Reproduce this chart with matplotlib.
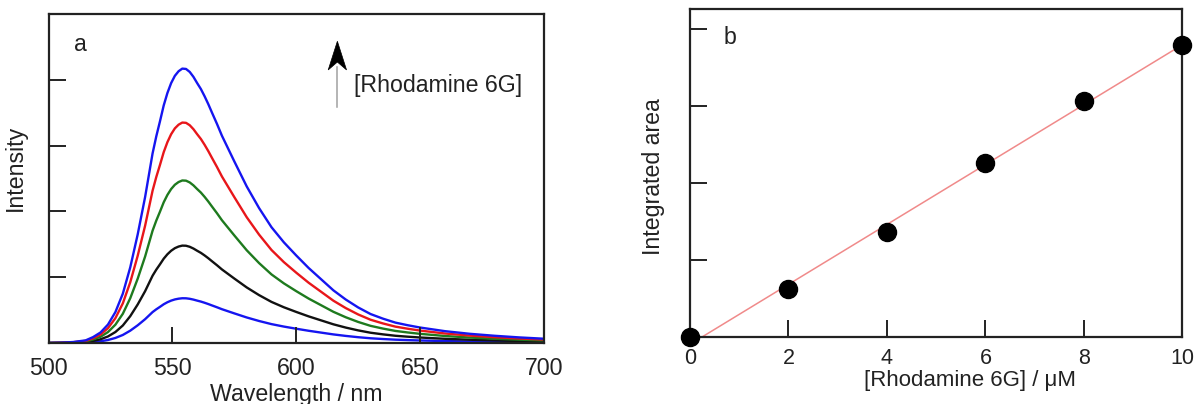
import numpy as np
import matplotlib
matplotlib.use("Agg")
import matplotlib.pyplot as plt
from matplotlib.patches import Polygon

plt.rcParams['font.family'] = ['Liberation Sans', 'DejaVu Sans']

# ---- Panel a: emission spectra ----
wavelength = [500, 505, 510, 515, 518, 521, 524, 527, 530, 533, 536, 539, 542,
              543.5, 545, 546.5, 548, 549.5, 551, 552.5, 554, 555.5, 557,
              558.5, 560, 561.5, 563, 564.5, 566, 568, 570, 575, 580, 585,
              590, 595, 600, 605, 610, 615, 620, 625, 630, 635, 640, 645, 650,
              660, 670, 680, 690, 700]
# emission profile of the most concentrated sample
profile = [0.0, 0.005, 0.015, 0.04, 0.09, 0.16, 0.28, 0.47, 0.75, 1.15, 1.65,
           2.22, 2.88, 3.14, 3.37, 3.61, 3.80, 3.95, 4.06, 4.13, 4.17, 4.165,
           4.12, 4.045, 3.95, 3.86, 3.75, 3.63, 3.50, 3.33, 3.15, 2.76, 2.38,
           2.05, 1.76, 1.53, 1.33, 1.14, 0.97, 0.80, 0.66, 0.54, 0.44, 0.37,
           0.31, 0.27, 0.235, 0.18, 0.14, 0.11, 0.085, 0.065]
peak_heights = [0.68, 1.48, 2.47, 3.35, 4.17]
spectrum_colors = ['#1515f0', '#111111', '#1e7a1e', '#e8161a', '#1515f0']

# ---- Panel b: integrated emission vs concentration ----
concentration = [0, 2, 4, 6, 8, 10]
integrated_area = [0.0, 0.623, 1.371, 2.26, 3.07, 3.80]

TXT = '#222222'
FS = 16.7

fig = plt.figure(figsize=(11.97, 4.04), dpi=100)
ax_a = fig.add_axes([0.04052, 0.15099, 0.41395, 0.81436])
ax_b = fig.add_axes([0.57644, 0.16510, 0.41128, 0.81188])

wl = np.array(wavelength)
prof = np.array(profile)
for h, c in zip(peak_heights, spectrum_colors):
    ax_a.plot(wl, prof * h / prof.max(), color=c, lw=1.7, zorder=2,
              solid_joinstyle='round')

ax_a.set_xlim(500, 700)
ax_a.set_ylim(0, 5.0)
ax_a.set_xticks([500, 550, 600, 650, 700])
ax_a.set_yticks([1, 2, 3, 4])
ax_a.set_yticklabels([])
ax_a.set_axisbelow(False)
ax_a.tick_params(axis='x', direction='in', length=11.5, width=1.4, pad=10,
                 labelsize=FS, labelcolor=TXT, color=TXT)
ax_a.tick_params(axis='y', direction='in', length=12, width=1.4, color=TXT)
ax_a.set_xlabel('Wavelength / nm', fontsize=FS, color=TXT)
ax_a.xaxis.set_label_coords(0.5, -0.122, transform=ax_a.transAxes)
ax_a.xaxis.label.set_va('top')
ax_a.set_ylabel('Intensity', fontsize=FS, color=TXT)
ax_a.yaxis.set_label_coords(-0.043, 0.532)

ax_a.text(510.3, 4.434, 'a', fontsize=FS, color=TXT, ha='left', va='baseline')

# concentration arrow: grey shaft with a black swept head
ax_a.plot([616.6, 616.6], [3.587, 4.2], color='#a0a0a0', lw=1.1, zorder=3)
head = Polygon([[616.6, 4.586], [612.9, 4.15], [616.6, 4.27], [620.3, 4.15]],
               closed=True, facecolor='black', edgecolor='black', lw=0.5, zorder=4)
ax_a.add_patch(head)
ax_a.text(623.5, 3.81, '[Rhodamine 6G]', fontsize=FS, color=TXT,
          ha='left', va='baseline')

# panel b
m, b = np.polyfit(concentration, integrated_area, 1)
x0 = -b / m
ax_b.plot([x0, concentration[-1]], [m * x0 + b, m * concentration[-1] + b],
          color='#f08a8a', lw=1.1, zorder=2)
ax_b.plot(concentration, integrated_area, 'o', color='black', ms=13,
          clip_on=False, zorder=5)
ax_b.set_xlim(0, 10)
ax_b.set_ylim(0, 4.26)
ax_b.set_xticks([0, 2, 4, 6, 8, 10])
ax_b.set_yticks([1, 2, 3, 4])
ax_b.set_yticklabels([])
ax_b.tick_params(axis='x', direction='in', length=12, width=1.4, pad=8,
                 labelsize=15.5, labelcolor=TXT, color=TXT)
ax_b.tick_params(axis='y', direction='in', length=12, width=1.4, color=TXT)
ax_b.set_xlabel('[Rhodamine 6G] / μM', fontsize=16, color=TXT)
ax_b.xaxis.set_label_coords(0.569, -0.099)
ax_b.xaxis.label.set_va('top')
ax_b.set_ylabel('Integrated area', fontsize=FS, color=TXT)
ax_b.yaxis.set_label_coords(-0.051, 0.49)
ax_b.text(0.68, 3.81, 'b', fontsize=FS, color=TXT, ha='left', va='baseline')

for ax in (ax_a, ax_b):
    for s in ax.spines.values():
        s.set_linewidth(1.6)
        s.set_color(TXT)

fig.savefig('out.png', dpi=100)
